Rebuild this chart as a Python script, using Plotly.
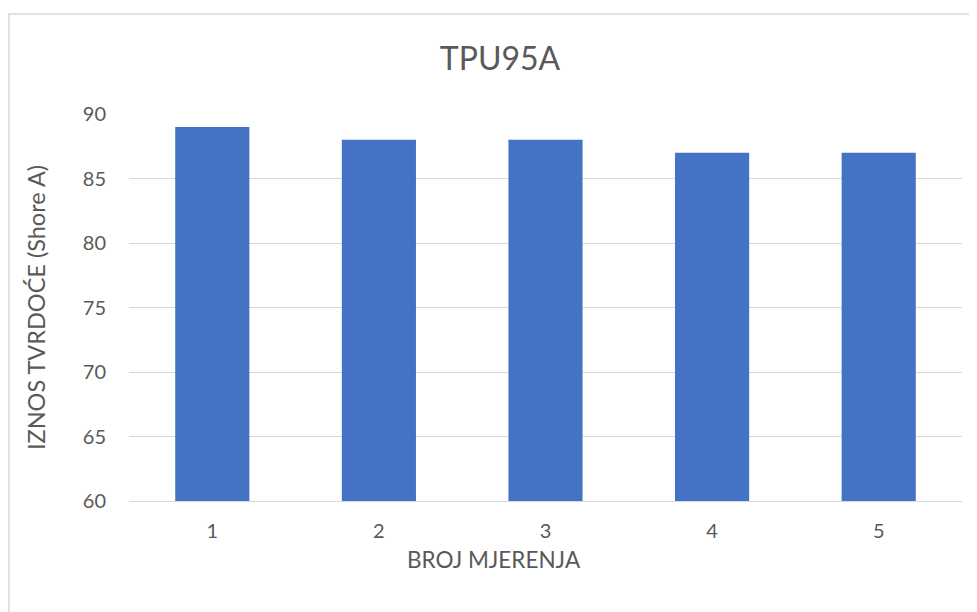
import plotly.graph_objects as go

categories = ["1", "2", "3", "4", "5"]
values = [89, 88, 88, 87, 87]
y_ticks = [60, 65, 70, 75, 80, 85, 90]

# page body has an 8px margin, so the figure is laid out in its own coordinates
W, H = 969, 604
ml, mr, mt, mb = 121, 15, 106, 111
pw, ph = W - ml - mr, H - mt - mb

def px_x(p):
    return (p - ml) / pw

def px_y(p):
    return (H - mb - p) / ph

font_family = "Lato, 'Open Sans', sans-serif"
grey = "#595959"

fig = go.Figure(go.Bar(
    x=categories, y=values,
    marker=dict(color="#4472C4", line=dict(width=0)),
    width=0.445,
))

fig.update_layout(
    width=W, height=H,
    margin=dict(l=ml, r=mr, t=mt, b=mb),
    paper_bgcolor="white", plot_bgcolor="white",
    showlegend=False,
    font=dict(family=font_family, color=grey, size=20),
    title=dict(text="TPU95A", x=492 / W, xanchor="center", y=1 - 51 / H, yanchor="middle",
               font=dict(size=32, color=grey, family=font_family)),
    xaxis=dict(
        type="category",
        showgrid=False, showline=True, linecolor="#d9d9d9", linewidth=1,
        ticks="", tickfont=dict(size=20, color=grey), ticklabelstandoff=12,
        automargin=False,
    ),
    yaxis=dict(
        range=[60, 90], tickvals=y_ticks,
        showgrid=True, gridcolor="#d9d9d9", gridwidth=1,
        zeroline=False, showline=False, ticks="",
        tickfont=dict(size=20, color=grey), ticklabelstandoff=22,
        title=dict(text="IZNOS TVRDOĆE (Shore A)", font=dict(size=23.5, color=grey), standoff=30),
        automargin=False,
    ),
    annotations=[dict(
        text="BROJ MJERENJA", xref="paper", yref="paper",
        x=px_x(486), y=px_y(551), xanchor="center", yanchor="middle",
        showarrow=False, font=dict(size=22.5, color=grey, family=font_family),
    )],
    shapes=[dict(
        type="rect", xref="paper", yref="paper",
        x0=px_x(1), x1=px_x(1000), y0=px_y(6), y1=px_y(640),
        line=dict(color="#d9d9d9", width=1.5), fillcolor="rgba(0,0,0,0)", layer="below",
    )],
)

fig.write_html("out.html")
